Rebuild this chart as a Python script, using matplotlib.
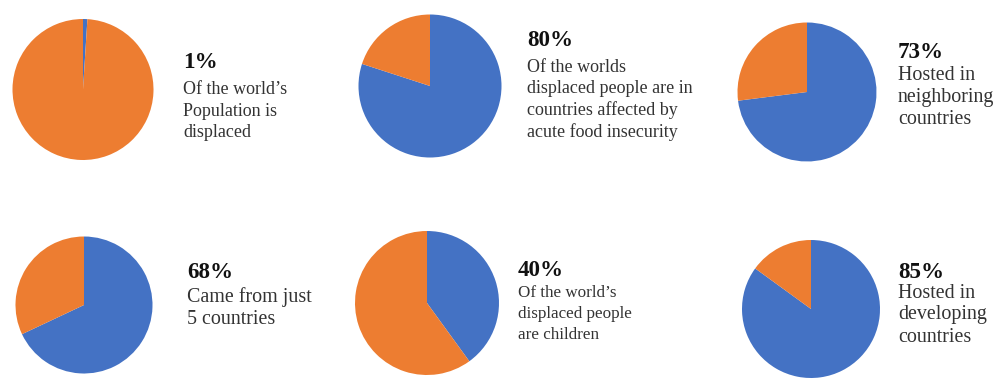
import matplotlib
matplotlib.use("Agg")
import matplotlib.pyplot as plt

W, H = 995, 379

# Data
percentages = [1, 80, 73, 68, 40, 85]
titles = ["1%", "80%", "73%", "68%", "40%", "85%"]
descriptions = [
    ["Of the world\u2019s", "Population is", "displaced"],
    ["Of the worlds", "displaced people are in", "countries affected by", "acute food insecurity"],
    ["Hosted in", "neighboring", "countries"],
    ["Came from just", "5 countries"],
    ["Of the world\u2019s", "displaced people", "are children"],
    ["Hosted in", "developing", "countries"],
]

# Layout (pixels)
centers = [(83, 89.5), (430, 86), (807, 92), (84, 305), (427, 303), (811, 309)]
radii = [70.5, 71.5, 69.5, 68.5, 72, 69]
text_x = [183, 527, 898, 187, 518, 898]
title_y = [62, 40, 52, 272, 270, 272]
body_y0 = [89, 67, 76, 297, 293, 293]
body_dy = [22, 21.7, 21.5, 22, 21, 22]
body_px = [18, 18, 20, 20, 17, 20]

BLUE = "#4472C4"
ORANGE = "#ED7D31"

fig = plt.figure(figsize=(W / 100, H / 100), dpi=100)
fig.patch.set_facecolor("white")

serif = ["Liberation Serif", "DejaVu Serif"]

for i, p in enumerate(percentages):
    cx, cy = centers[i]
    r = radii[i]
    ax = fig.add_axes([(cx - r) / W, (H - (cy + r)) / H, 2 * r / W, 2 * r / H])
    ax.pie([p, 100 - p], colors=[BLUE, ORANGE], startangle=90,
           counterclock=False, radius=1.0,
           wedgeprops=dict(linewidth=0))
    ax.set_xlim(-1, 1)
    ax.set_ylim(-1, 1)
    ax.set_aspect("equal")
    ax.axis("off")

    fig.text(text_x[i] / W, 1 - title_y[i] / H, titles[i], family=serif,
             fontweight="bold", fontsize=23 * 0.72, ha="left", va="center",
             color="#111111")
    for j, line in enumerate(descriptions[i]):
        y = body_y0[i] + j * body_dy[i]
        fig.text(text_x[i] / W, 1 - y / H, line, family=serif,
                 fontsize=body_px[i] * 0.72, ha="left", va="center",
                 color="#333333")

fig.savefig("out.png", dpi=100, facecolor="white")
